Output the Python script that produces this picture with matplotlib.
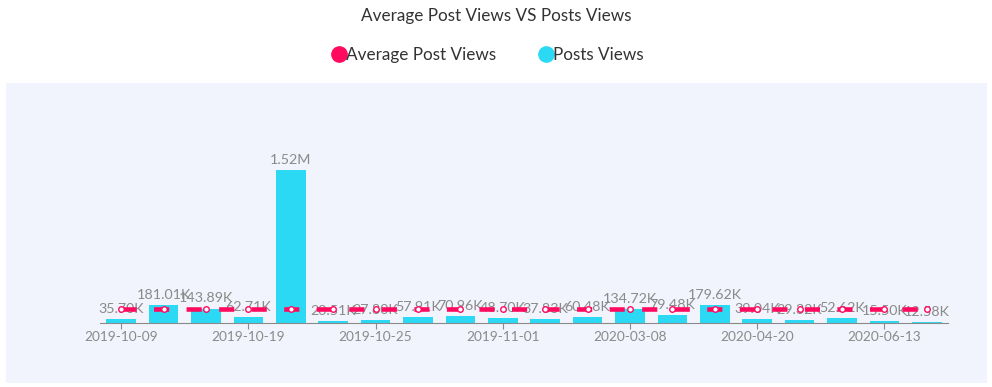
import matplotlib
matplotlib.use("Agg")
import matplotlib.pyplot as plt
from matplotlib.patches import Rectangle
from matplotlib.lines import Line2D

plt.rcParams['font.family'] = ['Lato', 'DejaVu Sans']

dates = ["2019-10-09", "2019-10-12", "2019-10-15", "2019-10-19", "2019-10-21",
         "2019-10-23", "2019-10-25", "2019-10-27", "2019-10-29", "2019-11-01",
         "2019-11-05", "2020-02-20", "2020-03-08", "2020-03-20", "2020-04-05",
         "2020-04-20", "2020-05-10", "2020-05-25", "2020-06-13", "2020-06-25"]
posts_views = [35700, 181010, 143890, 62710, 1520000, 20510, 27800, 57910, 70960, 48700,
               37830, 60480, 134720, 79480, 179620, 39040, 29320, 52620, 15500, 12580]
labels = ["35.70K", "181.01K", "143.89K", "62.71K", "1.52M", "20.51K", "27.80K", "57.91K",
          "70.96K", "48.70K", "37.83K", "60.48K", "134.72K", "79.48K", "179.62K", "39.04K",
          "29.32K", "52.62K", "15.50K", "12.58K"]
avg_views = [140519] * 20
tick_idx = [0, 3, 6, 9, 12, 15, 18]

pink = '#ff0a5f'
cyan = '#2cd9f5'
W, H = 992, 387

fig = plt.figure(figsize=(W / 100, H / 100), dpi=100)
fig.patches.append(Rectangle((6 / W, 1 - 383 / H), 981 / W, 300 / H,
                             transform=fig.transFigure, facecolor='#f1f4fc',
                             edgecolor='none', zorder=-10))

ax = fig.add_axes([100 / W, 1 - 323 / H, 848 / W, 233 / H])
ax.set_facecolor('none')
x = list(range(len(posts_views)))
ax.bar(x, posts_views, width=0.7, color=cyan, zorder=2)
for xi, v, t in zip(x, posts_views, labels):
    ax.annotate(t, (xi, v), xytext=(0, 3), textcoords='offset points',
                ha='center', va='bottom', fontsize=10.3, color='#8a8a8a', zorder=3)

ax.plot(x, avg_views, color=pink, linewidth=3.3, linestyle=(0, (3.3, 3.8)),
        marker='o', markersize=4, markerfacecolor='white', markeredgecolor=pink,
        markeredgewidth=1.0, zorder=4)

ax.set_xlim(-0.5, 19.5)
ax.set_ylim(0, 2.315e6)
ax.set_xticks(tick_idx)
ax.set_xticklabels([dates[i] for i in tick_idx])
ax.tick_params(axis='x', colors='#8a8a8a', labelsize=9.8, length=4, pad=2)
ax.set_yticks([])
for s in ['top', 'right', 'left']:
    ax.spines[s].set_visible(False)
ax.spines['bottom'].set_color('#8a8a8a')

fig.text(0.5, 1 - 16 / H, "Average Post Views VS Posts Views", ha='center', va='center',
         fontsize=12.3, color='#333333')

handles = [Line2D([], [], linestyle='none', marker='o', markersize=11, color=pink),
           Line2D([], [], linestyle='none', marker='o', markersize=11, color=cyan)]
fig.legend(handles, ["Average Post Views", "Posts Views"], loc='center',
           bbox_to_anchor=(487 / W, 1 - 55 / H), ncol=2, frameon=False,
           fontsize=12.3, handlelength=1.0, handletextpad=-0.1, columnspacing=2.4,
           labelcolor='#333333')

fig.savefig("out.png", dpi=100)
